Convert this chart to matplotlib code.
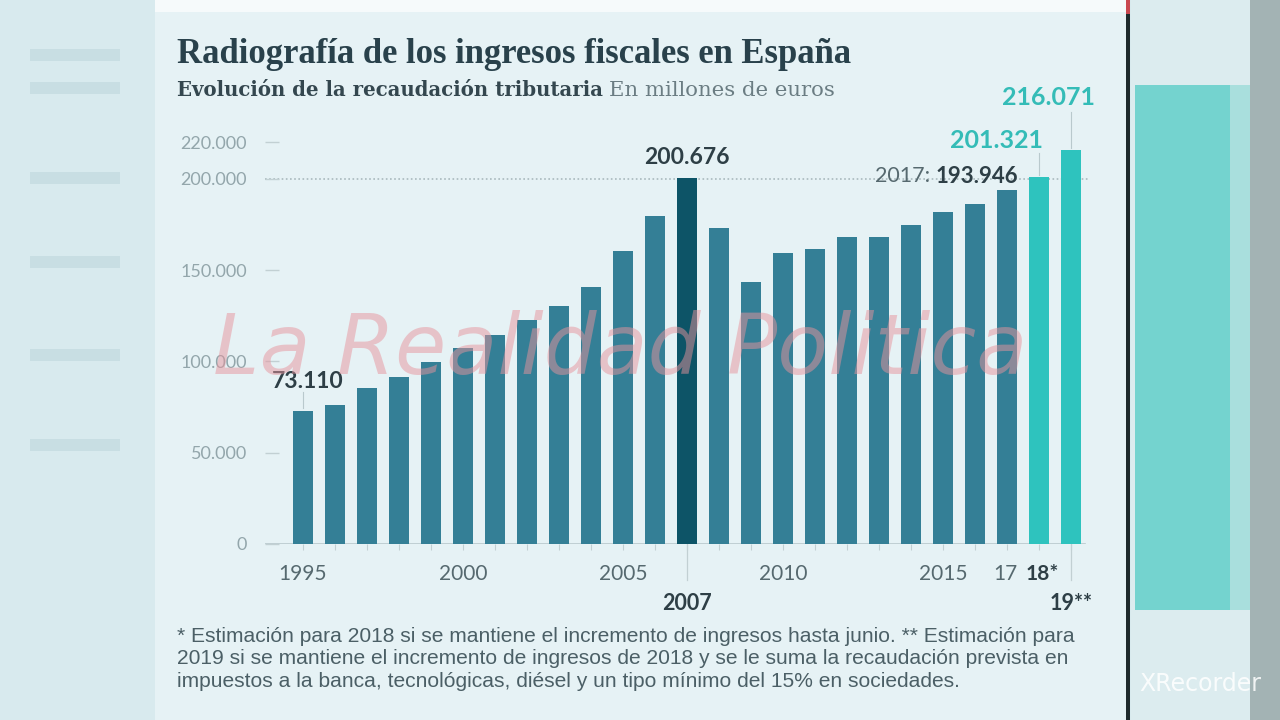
import matplotlib
matplotlib.use("Agg")
import matplotlib.pyplot as plt
from matplotlib.patches import Rectangle
import matplotlib.transforms as mtransforms

# Datos: recaudación tributaria, millones de euros
years = list(range(1995, 2020))
values = [73110, 76200, 85500, 91500, 99700, 107400, 114500, 122700, 130400,
          140800, 160500, 179700, 200676, 173200, 143600, 159500, 161600,
          168200, 168300, 174800, 181900, 186300, 193946, 201321, 216071]

ytick_vals = [0, 50000, 100000, 150000, 200000, 220000]
ytick_text = ['0', '50.000', '100.000', '150.000', '200.000', '220.000']

xlab_years = [1995, 2000, 2005, 2010, 2015, 2017, 2018]
xlab_text = ['1995', '2000', '2005', '2010', '2015', '17', '18*']
xlab2_years = [2007, 2019]
xlab2_text = ['2007', '19**']

# Colores
c_bar = '#347f96'
c_peak = '#0d5467'
c_est = '#2ec3be'
c_est_txt = '#34bcb7'
c_dark = '#2e3f46'
c_grey = '#56696f'
c_light = '#93a6ab'
c_panel = '#e6f2f5'
c_outer = '#d8eaee'

W, H = 1280, 720
fig = plt.figure(figsize=(12.8, 7.2), dpi=100)
fig.patch.set_facecolor(c_outer)


def fx(px):
    return px / W


def fy(py):
    return 1 - py / H


def rect(x0, y0, x1, y1, color, alpha=1.0):
    # rectangulo de fondo en pixeles (y desde arriba)
    r = Rectangle((fx(x0), fy(y1)), (x1 - x0) / W, (y1 - y0) / H,
                  transform=fig.transFigure, color=color, alpha=alpha, lw=0,
                  zorder=-10)
    fig.patches.append(r)


def fit_width(t, target_px):
    # ajusta el tamaño de letra al ancho medido en la referencia
    fig.canvas.draw()
    w = t.get_window_extent().width
    t.set_fontsize(t.get_fontsize() * target_px / w)


# fondo desenfocado de la captura
for yy in [55, 88, 178, 262, 355, 445]:
    rect(30, yy - 6, 120, yy + 6, '#bcd5da', 0.55)
rect(155, 0, 1127, 720, c_panel)
rect(155, 0, 1127, 12, '#f6fafb')
rect(1126, 14, 1130, 720, '#1e2a2c')
rect(1126, 0, 1130, 14, '#c9474f')
rect(1131, 0, 1280, 720, '#dcecef')
rect(1135, 85, 1230, 610, '#74d3cf')
rect(1230, 85, 1250, 610, '#a9dfdd')
rect(1250, 0, 1280, 720, '#a3b3b4')

# ejes colocados en pixeles
ax = fig.add_axes([fx(265), 1 - 544 / H, 825 / W, 454 / H])
ax.set_facecolor('none')
ax.set_xlim(1995 - 38 / 32, 1995 + 787 / 32)
ax.set_ylim(0, 454 * 547.9)

colors = []
for yr in years:
    if yr == 2007:
        colors.append(c_peak)
    elif yr >= 2018:
        colors.append(c_est)
    else:
        colors.append(c_bar)
ax.bar(years, values, width=0.625, color=colors, zorder=3)

for s in ax.spines.values():
    s.set_visible(False)
ax.axhline(0, xmax=820 / 825, color='#b9c9cd', lw=1.2, zorder=2)
ax.axhline(200000, color='#a9b9bd', lw=1.2, ls=(0, (1, 1.5)), zorder=1)

ax.set_yticks(ytick_vals)
ax.set_yticklabels(ytick_text)
ax.tick_params(axis='y', direction='in', length=10, width=1, color='#c2d0d3',
               pad=13, labelsize=13, labelcolor=c_light)
for t in ax.get_yticklabels():
    t.set_fontfamily('Lato')

ax.set_xticks(years)
ax.set_xticklabels([])
ax.tick_params(axis='x', direction='out', length=4, width=0.8, color='#c2d0d3')

# ticks largos 2007 y 2019
trans = mtransforms.blended_transform_factory(ax.transData, ax.transAxes)
for yr in xlab2_years:
    ax.plot([yr, yr], [0, -36 / 454], transform=trans, color='#c2d0d3', lw=0.9,
            clip_on=False)

for yr, txt in zip(xlab_years, xlab_text):
    bold = txt.endswith('*')
    dx = 3 if bold else (-2 if txt == '17' else 0)
    ax.annotate(txt, xy=(yr, 0), xycoords=trans, xytext=(dx, -30),
                textcoords='offset pixels', ha='center', va='center',
                fontsize=15, family='Lato',
                fontweight='bold' if bold else 'normal',
                color=c_dark if bold else c_grey)
for yr, txt in zip(xlab2_years, xlab2_text):
    ax.annotate(txt, xy=(yr, 0), xycoords=trans, xytext=(0, -59),
                textcoords='offset pixels', ha='center', va='center',
                fontsize=15.5, family='Lato', fontweight='bold', color=c_dark)

# etiquetas de valores
def fmt(v):
    return f'{v:,}'.replace(',', '.')


v95 = values[0]
ax.text(1995 + 0.15, 89300, fmt(v95), ha='center', va='center', fontsize=16.5,
        family='Lato', fontweight='bold', color=c_dark)
ax.plot([1995, 1995], [v95 + 1500, 83500], color='#b9c9cd', lw=0.8)

v07 = values[years.index(2007)]
ax.text(2007, 212000, fmt(v07), ha='center', va='center', fontsize=16.5,
        family='Lato', fontweight='bold', color=c_dark)

v17 = values[years.index(2017)]
ax.text(2017 + 0.34, 201600, fmt(v17), ha='right', va='center', fontsize=16,
        family='Lato', fontweight='bold', color=c_dark)
ax.text(2017 + 0.34 - 2.75, 201600, '2017:', ha='right', va='center',
        fontsize=15.5, family='Lato', color=c_grey)

v18 = values[years.index(2018)]
ax.text(2018 + 0.12, 221300, fmt(v18), ha='right', va='center', fontsize=18,
        family='Lato', fontweight='bold', color=c_est_txt)
ax.plot([2018, 2018], [v18 + 1000, 214000], color='#b9c9cd', lw=0.8)

v19 = values[years.index(2019)]
ax.text(2019 + 0.75, 244400, fmt(v19), ha='right', va='center', fontsize=18,
        family='Lato', fontweight='bold', color=c_est_txt, clip_on=False)
ax.plot([2019, 2019], [v19 + 1000, 236500], color='#b9c9cd', lw=0.8)

# textos de cabecera y notas
title = fig.text(fx(177), fy(63), 'Radiografía de los ingresos fiscales en España',
                 fontsize=22, family='Liberation Serif', fontweight='bold',
                 color='#29414b', va='baseline')
fit_width(title, 676)
sub = fig.text(fx(177), fy(96), 'Evolución de la recaudación tributaria',
               fontsize=14.5, family='DejaVu Serif', fontweight='bold',
               color='#34474f', va='baseline')
fit_width(sub, 427)
fig.canvas.draw()
bb = sub.get_window_extent()
sub2 = fig.text(bb.x1 / W + fx(6), fy(96), 'En millones de euros',
                fontsize=sub.get_fontsize(), family='DejaVu Serif',
                color='#6b7d83', va='baseline')
fit_width(sub2, 226)

notes = ['* Estimación para 2018 si se mantiene el incremento de ingresos hasta junio. ** Estimación para',
         '2019 si se mantiene el incremento de ingresos de 2018 y se le suma la recaudación prevista en',
         'impuestos a la banca, tecnológicas, diésel y un tipo mínimo del 15% en sociedades.']
note_objs = []
for i, line in enumerate(notes):
    note_objs.append(fig.text(fx(177), fy(642 + 22.5 * i), line, fontsize=14,
                              family='Liberation Sans', color='#4b5f66',
                              va='baseline'))
fit_width(note_objs[0], 905)
for t in note_objs[1:]:
    t.set_fontsize(note_objs[0].get_fontsize())

# marca de agua de la captura
fig.text(fx(620), fy(350), 'La Realidad Politica', fontsize=60, style='italic',
         family='DejaVu Sans', fontweight='light', color='#e6939c', alpha=0.5,
         ha='center', va='center', zorder=10)
fig.text(fx(1200), fy(684), 'XRecorder', fontsize=17, color='white', alpha=0.85,
         ha='center', va='center')

fig.savefig('out.png', dpi=100, facecolor=fig.get_facecolor())
